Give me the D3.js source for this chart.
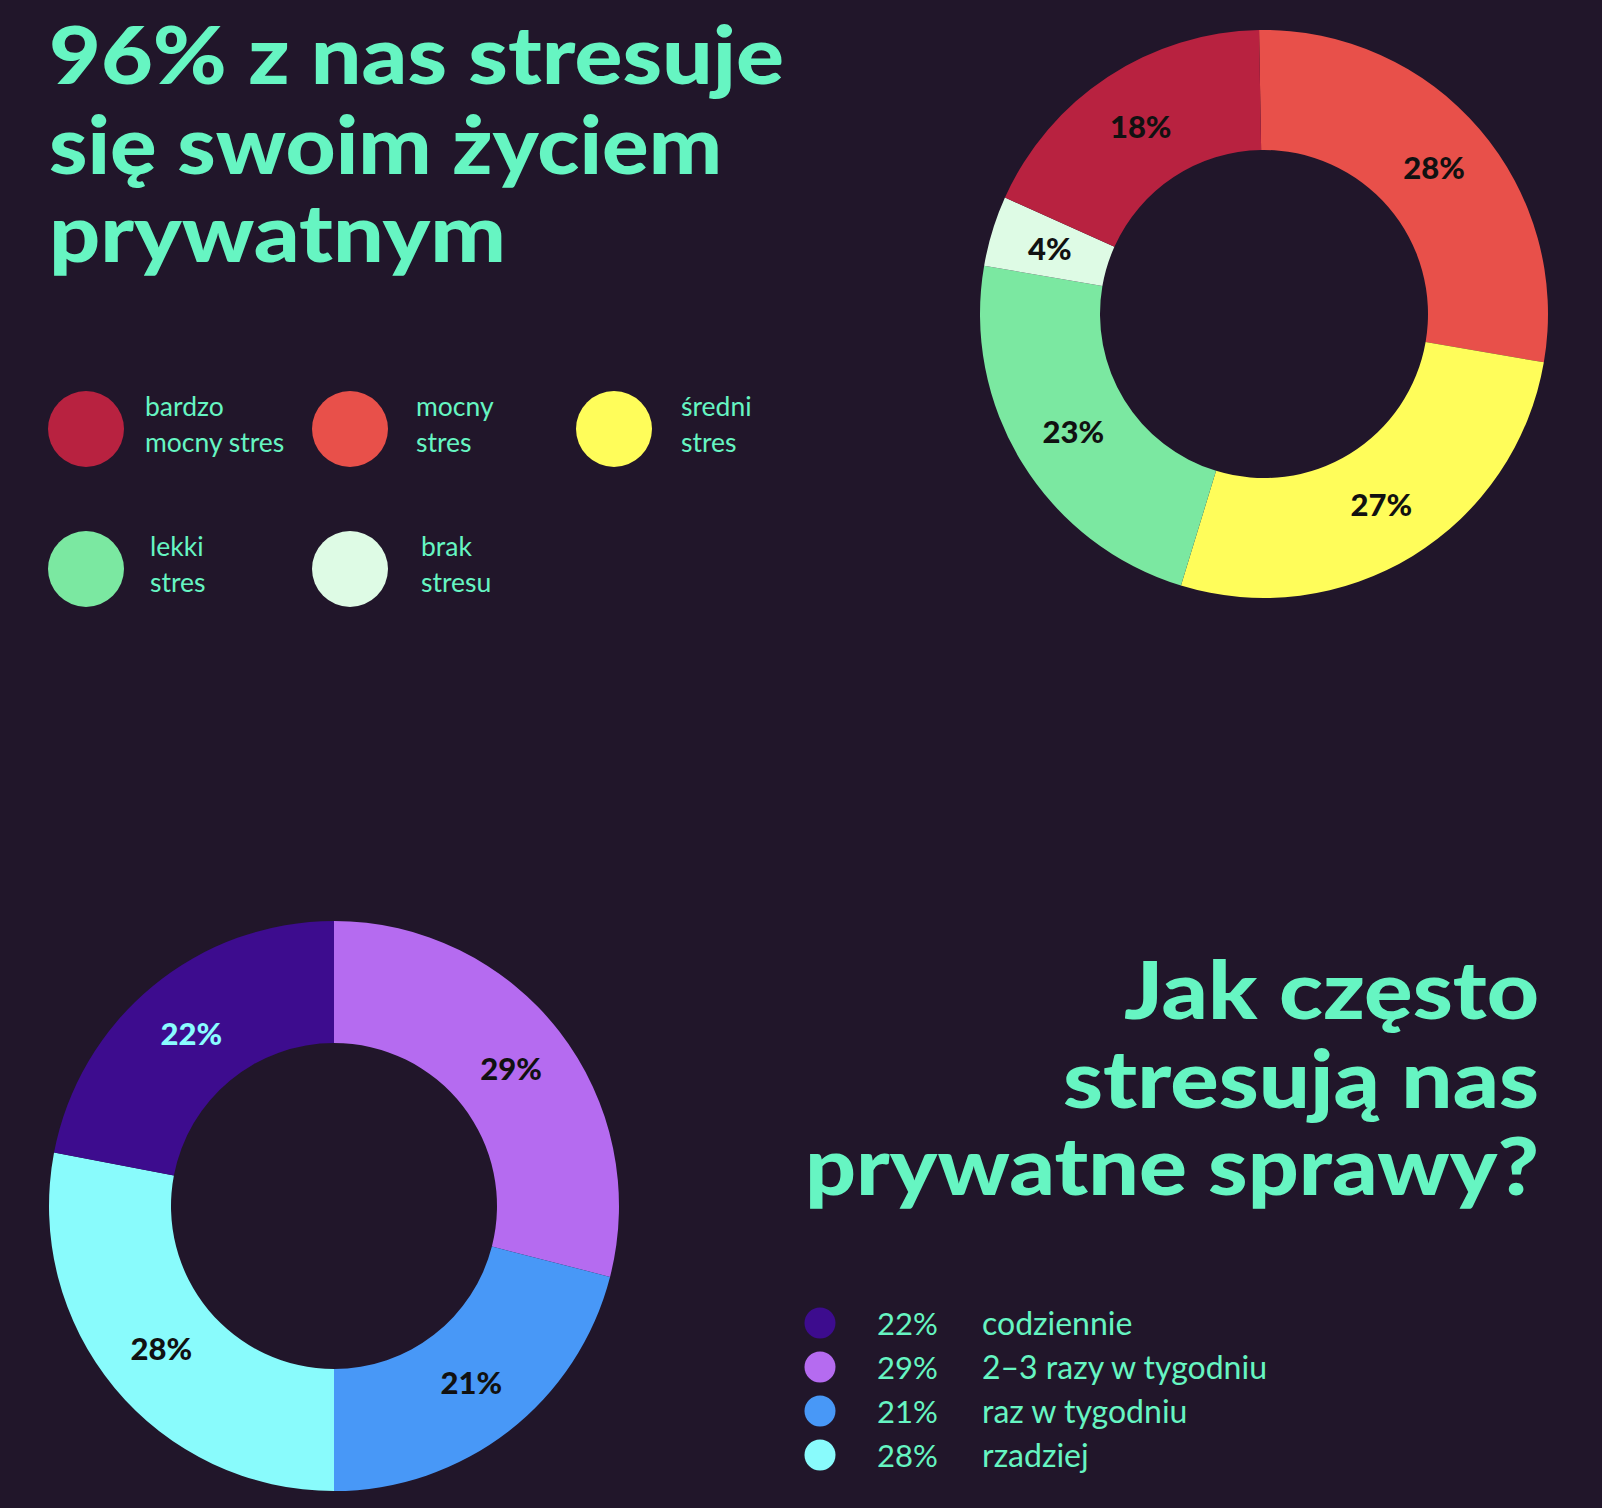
<!DOCTYPE html>
<html><head><meta charset="utf-8">
<script src="https://cdn.jsdelivr.net/npm/d3@7"></script>
<style>
html,body{margin:0;padding:0;background:#21162a;}
svg{display:block;}
</style></head>
<body>
<svg id="chart" width="1602" height="1508"></svg>
<script>
// ---------- DATA ----------
const topTitleLines = ["96% z nas stresuje", "się swoim życiem", "prywatnym"];
const topCategories = ["mocny stres", "średni stres", "lekki stres", "brak stresu", "bardzo mocny stres"];
const topValues = [28, 27, 23, 4, 18];
const topColors = ["#e8504a", "#fffd5a", "#7be8a1", "#defbe5", "#b82240"];
const topLegendOrder = ["bardzo mocny stres", "mocny stres", "średni stres", "lekki stres", "brak stresu"];
const topLegendLines = [["bardzo", "mocny stres"], ["mocny", "stres"], ["średni", "stres"], ["lekki", "stres"], ["brak", "stresu"]];

const bottomTitleLines = ["Jak często", "stresują nas", "prywatne sprawy?"];
const bottomCategories = ["2–3 razy w tygodniu", "raz w tygodniu", "rzadziej", "codziennie"];
const bottomValues = [29, 21, 28, 22];
const bottomColors = ["#b56bf0", "#4898f7", "#89fbfc", "#3d0c8e"];
const bottomLegendOrder = ["codziennie", "2–3 razy w tygodniu", "raz w tygodniu", "rzadziej"];

// ---------- STYLE ----------
const BG = "#21162a";
const GREEN = "#66f5c2";
const svg = d3.select("#chart");
svg.append("rect").attr("width", 1602).attr("height", 1508).attr("fill", BG);

function title(lines, x, baselines, widths, anchor) {
  svg.append("g").selectAll("text").data(lines).join("text")
    .attr("x", x).attr("y", (d, i) => baselines[i])
    .attr("text-anchor", anchor)
    .attr("fill", GREEN)
    .attr("font-family", "Lato, 'Open Sans', sans-serif")
    .attr("font-weight", 900)
    .attr("font-size", 80)
    .attr("textLength", (d, i) => widths[i])
    .attr("lengthAdjust", "spacingAndGlyphs")
    .text(d => d);
}

// ---------- TOP TITLE ----------
title(topTitleLines, 49, [84, 174, 262], [735, 673, 457], "start");

// ---------- TOP LEGEND ----------
const topColorScale = d3.scaleOrdinal().domain(topCategories).range(topColors);
const topLegendPos = [[86, 429], [350, 429], [614, 429], [86, 569], [350, 569]];
const topLegendTextX = [145, 416, 681, 150, 421];
const tl = svg.append("g").selectAll("g").data(topLegendOrder).join("g");
tl.append("circle")
  .attr("cx", (d, i) => topLegendPos[i][0])
  .attr("cy", (d, i) => topLegendPos[i][1])
  .attr("r", 38)
  .attr("fill", d => topColorScale(d));
tl.each(function(d, i) {
  d3.select(this).selectAll("text").data(topLegendLines[i]).join("text")
    .attr("x", topLegendTextX[i])
    .attr("y", (t, j) => topLegendPos[i][1] - 13 + j * 36)
    .attr("fill", GREEN)
    .attr("font-family", "Lato, sans-serif")
    .attr("font-size", 26.5)
    .text(t => t);
});

// ---------- DONUT HELPER ----------
function donut(values, colors, cx, cy, rOuter, rInner, offsetDeg, labelColors) {
  const off = offsetDeg * Math.PI / 180;
  const pie = d3.pie().sort(null).value(d => d)
    .startAngle(off).endAngle(2 * Math.PI + off);
  const arc = d3.arc().innerRadius(rInner).outerRadius(rOuter);
  const g = svg.append("g").attr("transform", `translate(${cx},${cy})`);
  const arcs = pie(values);
  g.selectAll("path").data(arcs).join("path")
    .attr("d", arc)
    .attr("fill", (d, i) => colors[i]);
  g.selectAll("text").data(arcs).join("text")
    .attr("transform", d => `translate(${arc.centroid(d)})`)
    .attr("text-anchor", "middle")
    .attr("dy", "0.36em")
    .attr("fill", (d, i) => labelColors[i])
    .attr("font-family", "Lato, sans-serif")
    .attr("font-weight", 900)
    .attr("font-size", 31)
    .text(d => d.data + "%");
}

donut(topValues, topColors, 1264, 314, 284, 164, -1,
  ["#111", "#111", "#111", "#111", "#111"]);

donut(bottomValues, bottomColors, 334, 1206, 285, 163, 0,
  ["#111", "#111", "#111", "#8afcff"]);

// ---------- BOTTOM TITLE ----------
title(bottomTitleLines, 1539, [1019, 1108, 1195], [415, 476, 734], "end");

// ---------- BOTTOM LEGEND ----------
const bottomColorScale = d3.scaleOrdinal().domain(bottomCategories).range(bottomColors);
const bottomValueMap = new Map(bottomCategories.map((c, i) => [c, bottomValues[i]]));
const rowY = d3.scalePoint().domain(bottomLegendOrder).range([1323, 1455]);
const bl = svg.append("g").selectAll("g").data(bottomLegendOrder).join("g");
bl.append("circle").attr("cx", 820).attr("cy", d => rowY(d)).attr("r", 15.5)
  .attr("fill", d => bottomColorScale(d));
bl.append("text").attr("x", 877).attr("y", d => rowY(d) + 12)
  .attr("fill", GREEN).attr("font-family", "Lato, sans-serif").attr("font-size", 31)
  .text(d => bottomValueMap.get(d) + "%");
bl.append("text").attr("x", 982).attr("y", d => rowY(d) + 12)
  .attr("fill", GREEN).attr("font-family", "Lato, sans-serif").attr("font-size", 32)
  .text(d => d);
</script>
</body></html>
